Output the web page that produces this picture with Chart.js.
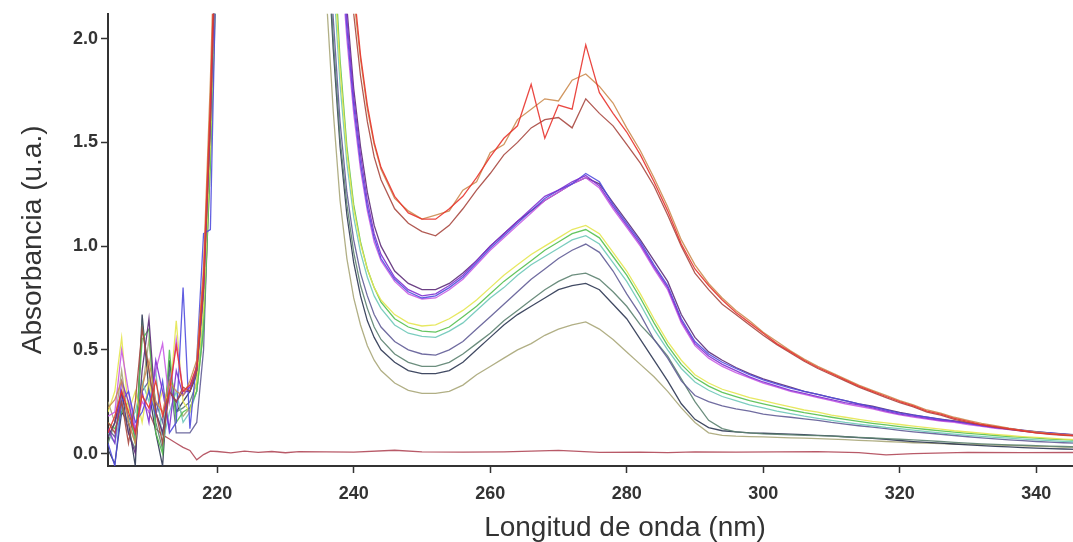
<!DOCTYPE html>
<html>
<head>
<meta charset="utf-8">
<script src="https://cdn.jsdelivr.net/npm/chart.js@4/dist/chart.umd.min.js"></script>
<style>
  html, body { margin: 0; padding: 0; background: #fff; overflow: hidden; }
  #wrap { width: 1073px; height: 542px; overflow: hidden; position: relative; background: #fff; }
  canvas { display: block; }
</style>
</head>
<body>
<div id="wrap"><canvas id="chart" width="1142" height="542" style="width:1142px;height:542px"></canvas></div>
<script>
// Wavelength grid (nm): noisy start, steep edge after saturation, then 2 nm steps
const wavelengths = [
  204,205,206,207,208,209,210,211,212,213,214,215,216,217,218,219,220,
  236,237,238,239,240,241,242,243,244,246,248,250,
  252,254,256,258,260,262,264,266,268,270,272,274,276,278,280,282,284,286,288,290,
  292,294,296,298,300,302,304,306,308,310,312,314,316,318,320,322,324,326,328,330,
  332,334,336,338,340,342,344,346
];

// Absorbance spectra
const redA = [
  0.10,0.18,0.30,0.20,0.10,0.28,0.22,0.35,0.18,0.30,0.52,0.30,0.33,0.42,0.85,1.70,2.80,
  4.20,3.60,3.10,2.65,2.25,1.92,1.68,1.50,1.38,1.24,1.16,1.13,
  1.13,1.18,1.24,1.33,1.43,1.52,1.58,1.78,1.52,1.68,1.66,1.97,1.74,1.64,1.55,1.44,1.31,1.17,1.01,0.89,
  0.81,0.74,0.68,0.63,0.58,0.53,0.49,0.45,0.415,0.385,0.355,0.325,0.30,0.275,0.25,0.23,0.205,0.19,0.17,0.155,
  0.14,0.13,0.12,0.11,0.10,0.095,0.09,0.085
];
const redB = [
  0.22,0.26,0.35,0.15,0.05,0.32,0.45,0.25,0.20,0.35,0.30,0.28,0.35,0.45,0.90,1.80,2.90,
  4.00,3.50,3.00,2.60,2.20,1.90,1.66,1.49,1.37,1.23,1.17,1.13,
  1.15,1.17,1.27,1.31,1.45,1.49,1.61,1.66,1.71,1.70,1.80,1.83,1.77,1.69,1.57,1.46,1.33,1.19,1.03,0.91,
  0.82,0.75,0.69,0.64,0.585,0.54,0.495,0.455,0.42,0.39,0.36,0.33,0.305,0.28,0.255,0.235,0.21,0.195,0.175,0.16,
  0.145,0.135,0.122,0.112,0.105,0.097,0.092,0.088
];
const redC = [
  0.15,0.10,0.25,0.05,0.25,0.60,0.40,0.20,0.05,0.30,0.25,0.32,0.30,0.40,0.80,1.60,2.70,
  3.90,3.40,2.90,2.50,2.12,1.82,1.60,1.43,1.32,1.18,1.11,1.07,
  1.05,1.10,1.18,1.27,1.35,1.44,1.50,1.57,1.61,1.62,1.57,1.71,1.64,1.58,1.49,1.40,1.29,1.15,1.00,0.87,
  0.79,0.72,0.67,0.62,0.57,0.525,0.485,0.445,0.41,0.38,0.35,0.32,0.295,0.27,0.245,0.225,0.20,0.185,0.165,0.15,
  0.138,0.127,0.117,0.108,0.10,0.093,0.088,0.084
];
const violet = [
  0.12,0.05,0.35,0.25,0.10,0.30,0.15,0.45,0.30,0.12,0.40,0.28,0.32,0.40,0.78,1.60,2.70,
  3.60,3.00,2.55,2.10,1.72,1.44,1.22,1.06,0.96,0.85,0.79,0.76,
  0.77,0.81,0.86,0.93,1.00,1.06,1.12,1.18,1.24,1.27,1.31,1.34,1.29,1.19,1.10,1.01,0.90,0.80,0.64,0.53,
  0.47,0.43,0.40,0.37,0.345,0.325,0.305,0.29,0.275,0.26,0.245,0.235,0.22,0.205,0.19,0.18,0.17,0.16,0.155,0.145,
  0.135,0.125,0.118,0.11,0.103,0.097,0.092,0.087
];
const blue = [
  0.05,-0.06,0.25,0.30,0.15,0.20,0.30,0.18,0.35,0.10,0.15,0.80,0.12,0.45,1.06,1.08,2.60,
  3.50,2.95,2.50,2.05,1.68,1.40,1.19,1.04,0.94,0.84,0.78,0.75,
  0.76,0.80,0.85,0.92,0.99,1.05,1.11,1.17,1.23,1.27,1.30,1.35,1.31,1.20,1.11,1.02,0.91,0.81,0.65,0.54,
  0.48,0.44,0.41,0.38,0.355,0.335,0.315,0.30,0.285,0.27,0.255,0.24,0.225,0.21,0.195,0.185,0.175,0.165,0.155,0.145,
  0.135,0.127,0.12,0.112,0.105,0.099,0.094,0.089
];
const magenta = [
  0.18,0.20,0.50,0.30,0.12,0.25,0.20,0.40,0.53,0.25,0.55,0.30,0.32,0.42,0.82,1.65,2.70,
  3.40,2.90,2.45,2.00,1.64,1.37,1.17,1.02,0.93,0.83,0.77,0.745,
  0.75,0.79,0.84,0.91,0.98,1.04,1.10,1.16,1.22,1.26,1.30,1.33,1.28,1.18,1.09,1.00,0.89,0.79,0.63,0.52,
  0.46,0.42,0.39,0.365,0.34,0.32,0.30,0.285,0.27,0.255,0.24,0.228,0.215,0.20,0.186,0.176,0.166,0.157,0.15,0.14,
  0.131,0.122,0.115,0.108,0.101,0.095,0.09,0.086
];
const plum = [
  0.08,0.15,0.30,0.10,0.00,0.40,0.65,0.20,0.10,0.30,0.25,0.30,0.30,0.40,0.80,1.60,2.70,
  3.70,3.10,2.60,2.15,1.76,1.48,1.26,1.10,1.00,0.88,0.82,0.79,
  0.79,0.82,0.87,0.93,1.00,1.06,1.12,1.17,1.22,1.26,1.30,1.33,1.30,1.21,1.12,1.03,0.93,0.83,0.67,0.56,
  0.49,0.45,0.415,0.385,0.36,0.34,0.32,0.30,0.285,0.27,0.255,0.24,0.228,0.213,0.198,0.186,0.176,0.166,0.157,0.148,
  0.138,0.128,0.12,0.113,0.106,0.10,0.095,0.09
];
const yellow = [
  0.20,0.30,0.56,0.20,0.30,0.15,0.35,0.20,0.30,0.25,0.64,0.25,0.20,0.35,0.70,1.50,2.60,
  3.00,2.40,1.85,1.45,1.18,1.01,0.89,0.80,0.74,0.67,0.63,0.615,
  0.62,0.65,0.69,0.74,0.80,0.86,0.91,0.96,1.00,1.04,1.08,1.10,1.06,0.97,0.88,0.77,0.65,0.54,0.45,0.38,
  0.34,0.31,0.29,0.27,0.255,0.24,0.225,0.21,0.20,0.185,0.175,0.165,0.155,0.148,0.14,0.132,0.125,0.118,0.11,0.104,
  0.098,0.092,0.087,0.082,0.078,0.074,0.07,0.067
];
const green = [
  0.15,0.12,0.20,0.25,0.05,0.55,0.60,0.10,0.00,0.50,0.15,0.20,0.22,0.30,0.60,1.40,2.50,
  3.10,2.50,1.90,1.48,1.20,1.02,0.89,0.80,0.73,0.65,0.61,0.59,
  0.585,0.61,0.66,0.71,0.77,0.83,0.88,0.93,0.98,1.02,1.06,1.08,1.04,0.95,0.86,0.75,0.63,0.52,0.43,0.365,
  0.325,0.295,0.275,0.255,0.24,0.225,0.21,0.197,0.186,0.175,0.165,0.155,0.146,0.138,0.13,0.123,0.116,0.109,0.103,0.097,
  0.092,0.087,0.082,0.078,0.074,0.07,0.067,0.064
];
const teal = [
  0.10,0.05,0.22,0.15,0.20,0.35,0.25,0.40,0.05,0.20,0.30,0.15,0.20,0.30,0.65,1.50,2.60,
  2.90,2.30,1.78,1.40,1.14,0.97,0.85,0.76,0.70,0.62,0.58,0.565,
  0.56,0.59,0.63,0.69,0.75,0.80,0.86,0.91,0.95,0.99,1.03,1.05,1.01,0.92,0.83,0.72,0.60,0.50,0.41,0.345,
  0.305,0.275,0.255,0.235,0.22,0.205,0.192,0.18,0.17,0.16,0.15,0.142,0.134,0.126,0.12,0.113,0.106,0.10,0.094,0.088,
  0.083,0.078,0.074,0.07,0.066,0.062,0.059,0.056
];
const slate = [
  0.12,0.08,0.28,0.18,0.08,0.30,0.35,0.25,0.15,0.40,0.10,0.10,0.10,0.15,0.50,1.50,2.70,
  2.70,2.10,1.60,1.26,1.03,0.87,0.76,0.67,0.61,0.54,0.50,0.48,
  0.475,0.50,0.54,0.60,0.66,0.72,0.78,0.84,0.89,0.94,0.98,1.01,0.97,0.88,0.77,0.67,0.55,0.46,0.35,0.28,
  0.25,0.23,0.215,0.205,0.19,0.182,0.175,0.167,0.16,0.15,0.142,0.134,0.127,0.12,0.112,0.105,0.099,0.093,0.087,0.081,
  0.076,0.071,0.066,0.062,0.058,0.055,0.052,0.05
];
const sage = [
  0.05,0.15,0.25,0.10,0.02,0.62,0.40,0.15,0.02,0.35,0.20,0.22,0.25,0.34,0.70,1.55,2.60,
  2.60,2.00,1.52,1.20,0.97,0.81,0.70,0.61,0.55,0.48,0.44,0.42,
  0.42,0.44,0.48,0.53,0.58,0.64,0.69,0.74,0.79,0.83,0.86,0.87,0.84,0.78,0.71,0.62,0.55,0.47,0.36,0.25,
  0.16,0.12,0.105,0.10,0.095,0.093,0.09,0.088,0.086,0.084,0.081,0.078,0.075,0.072,0.069,0.066,0.062,0.058,0.054,0.05,
  0.047,0.044,0.042,0.04,0.038,0.036,0.034,0.032
];
const navy = [
  0.02,-0.05,0.20,0.15,-0.06,0.67,0.30,0.10,-0.06,0.45,0.20,0.25,0.30,0.38,0.78,1.60,2.70,
  2.55,1.95,1.48,1.15,0.92,0.76,0.64,0.56,0.50,0.44,0.40,0.385,
  0.385,0.40,0.44,0.50,0.56,0.62,0.67,0.71,0.75,0.79,0.81,0.82,0.79,0.72,0.65,0.55,0.45,0.35,0.24,0.165,
  0.125,0.11,0.105,0.10,0.098,0.096,0.094,0.091,0.088,0.085,0.081,0.077,0.073,0.068,0.063,0.058,0.054,0.05,0.046,0.042,
  0.038,0.035,0.032,0.029,0.026,0.024,0.022,0.02
];
const khaki = [
  0.25,0.15,0.40,0.15,0.05,0.30,0.55,0.20,0.10,0.30,0.25,0.18,0.22,0.30,0.60,1.40,2.40,
  2.20,1.65,1.22,0.94,0.75,0.62,0.52,0.45,0.40,0.34,0.305,0.29,
  0.29,0.30,0.33,0.38,0.42,0.46,0.50,0.53,0.57,0.60,0.62,0.635,0.60,0.55,0.49,0.43,0.37,0.30,0.22,0.15,
  0.10,0.088,0.084,0.082,0.08,0.078,0.076,0.074,0.072,0.07,0.067,0.064,0.061,0.058,0.055,0.052,0.05,0.048,0.046,0.045,
  0.043,0.041,0.039,0.037,0.035,0.033,0.031,0.03
];

// Blank (baseline) spectrum on its own grid
const blankWavelengths = [210,211,212,213,214,215,216,217,218,219,220,222,224,226,228,230,232,
  236,240,246,250,256,262,270,276,282,286,290,296,302,308,314,318,322,330,338,346];
const blank = [0.20,0.12,0.09,0.07,0.05,0.03,0.015,-0.03,-0.005,0.012,0.01,0.003,0.012,0.006,0.01,0.004,0.009,
  0.008,0.007,0.016,0.008,0.007,0.008,0.015,0.006,0.007,0.004,0.008,0.007,0.008,0.009,0.004,-0.006,0.0,0.006,0.004,0.005];

// Axis tick positions
const xTicks = [220, 240, 260, 280, 300, 320, 340];
const yTicks = [0, 0.5, 1.0, 1.5, 2.0];

const series = [
  { name: 'redA', values: redA, color: 'rgba(232,52,46,0.9)' },
  { name: 'redB', values: redB, color: 'rgba(204,140,80,0.9)' },
  { name: 'redC', values: redC, color: 'rgba(168,72,64,0.9)' },
  { name: 'violet', values: violet, color: 'rgba(128,48,208,0.9)' },
  { name: 'blue', values: blue, color: 'rgba(80,76,222,0.9)' },
  { name: 'magenta', values: magenta, color: 'rgba(200,90,228,0.9)' },
  { name: 'plum', values: plum, color: 'rgba(92,44,120,0.9)' },
  { name: 'yellow', values: yellow, color: 'rgba(228,230,80,0.9)' },
  { name: 'green', values: green, color: 'rgba(84,192,80,0.9)' },
  { name: 'teal', values: teal, color: 'rgba(110,200,184,0.9)' },
  { name: 'slate', values: slate, color: 'rgba(96,92,150,0.9)' },
  { name: 'sage', values: sage, color: 'rgba(92,130,112,0.9)' },
  { name: 'navy', values: navy, color: 'rgba(44,54,82,0.9)' },
  { name: 'khaki', values: khaki, color: 'rgba(168,166,120,0.9)' }
];

const datasets = series.map(s => ({
  label: s.name,
  data: wavelengths.map((w, i) => ({ x: w, y: s.values[i] })),
  borderColor: s.color,
  borderWidth: 1.3,
  pointRadius: 0,
  tension: 0,
  fill: false
}));
datasets.push({
  label: 'blank',
  data: blankWavelengths.map((w, i) => ({ x: w, y: blank[i] })),
  borderColor: 'rgba(176,72,88,0.9)',
  borderWidth: 1.3,
  pointRadius: 0,
  tension: 0,
  fill: false
});

const axisColor = '#333';
const tickFont = { family: 'Liberation Sans, Arial, sans-serif', size: 18, weight: 'bold' };
const titleFont = { family: 'Liberation Sans, Arial, sans-serif', size: 28, weight: 'normal', lineHeight: 1.0 };

new Chart(document.getElementById('chart'), {
  type: 'line',
  data: { datasets },
  options: {
    responsive: false,
    animation: false,
    events: [],
    layout: { padding: { top: 12, left: 0, right: 0, bottom: 0 } },
    plugins: { legend: { display: false }, tooltip: { enabled: false } },
    scales: {
      x: {
        type: 'linear',
        position: 'bottom',
        min: 204,
        max: 355.5,
        afterBuildTicks: s => { s.ticks = xTicks.map(v => ({ value: v })); },
        afterFit: s => { s.height = 76; },
        ticks: { font: tickFont, color: axisColor, padding: 10, maxRotation: 0, callback: v => String(v) },
        grid: { drawOnChartArea: false, drawTicks: true, tickLength: 7, tickColor: axisColor, tickWidth: 1.5 },
        border: { display: true, color: axisColor, width: 2 },
        title: { display: true, text: 'Longitud de onda (nm)', font: titleFont, color: axisColor, padding: { top: 0, bottom: 0 } }
      },
      y: {
        type: 'linear',
        min: -0.06,
        max: 2.12,
        afterBuildTicks: s => { s.ticks = yTicks.map(v => ({ value: v })); },
        afterFit: s => { s.width = 108; },
        ticks: { font: tickFont, color: axisColor, padding: 3, callback: v => Number(v).toFixed(1) },
        grid: { drawOnChartArea: false, drawTicks: true, tickLength: 7, tickColor: axisColor, tickWidth: 1.5 },
        border: { display: true, color: axisColor, width: 2 },
        title: { display: true, text: 'Absorbancia (u.a.)', font: titleFont, color: axisColor, padding: { top: 19, bottom: 0 } }
      }
    }
  }
});
</script>
</body>
</html>
